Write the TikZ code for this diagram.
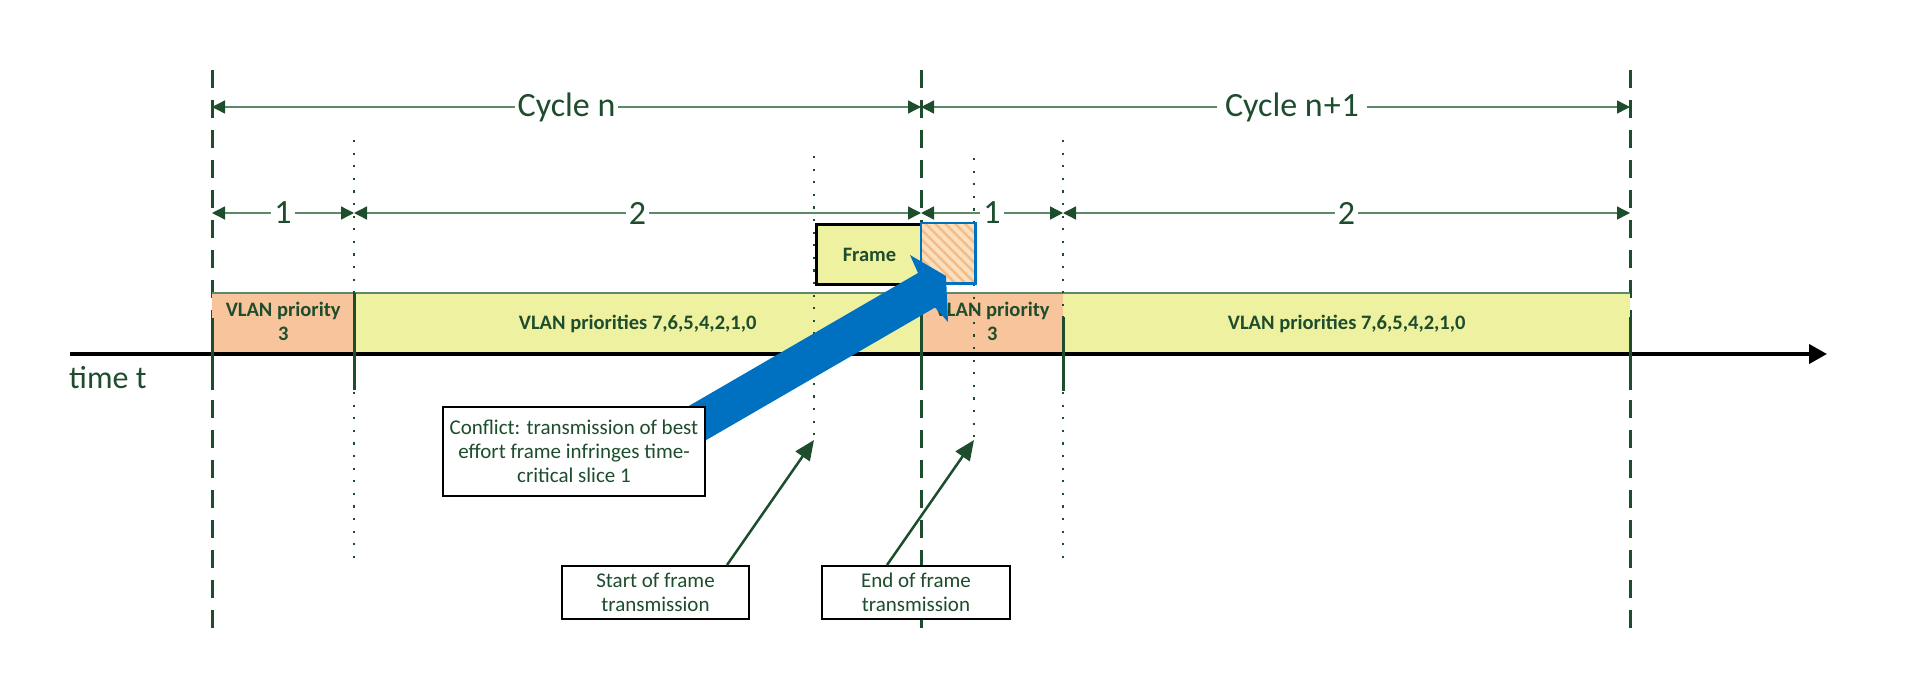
\documentclass[tikz,border=0pt]{standalone}
\usepackage{fontspec}
\setmainfont{Carlito}
\usetikzlibrary{arrows.meta,patterns.meta}
\definecolor{dkgreen}{HTML}{1D4D2C}
\definecolor{lgreen}{HTML}{5C8A68}
\definecolor{orfill}{HTML}{F8C49B}
\definecolor{yefill}{HTML}{EEF1A0}
\definecolor{bluearr}{HTML}{0070C0}
\definecolor{hatchbg}{HTML}{FBE0C0}
\definecolor{hatchln}{HTML}{F5BC85}
\begin{document}
\begin{tikzpicture}[x=1pt,y=-1pt,
  dashedline/.style={draw=dkgreen,line width=3pt,dash pattern=on 18pt off 12pt},
  dottedline/.style={draw=dkgreen,line width=2.2pt,dash pattern=on 2.2pt off 10.4pt},
  dimline/.style={draw=lgreen,line width=1.4pt,
     {Triangle[length=13pt,width=13pt,color=dkgreen]}-{Triangle[length=13pt,width=13pt,color=dkgreen]}},
  biglabel/.style={text=dkgreen,font=\fontsize{34}{40}\selectfont,fill=white,inner sep=3pt},
  bar/.style={inner sep=0pt,anchor=north west,minimum height=61pt},
  barlbl/.style={inner sep=0pt,text=dkgreen,font=\bfseries\fontsize{20.5}{23}\selectfont,align=center},
  tickline/.style={draw=dkgreen,line width=3pt},
  boxtext/.style={draw=black,line width=2pt,fill=white,text=dkgreen,
     font=\fontsize{21}{24}\selectfont,align=center,inner sep=0pt},
  pointer/.style={draw=dkgreen,line width=2.5pt,-{Triangle[length=20pt,width=17pt]}}
]
\useasboundingbox (0,0) rectangle (1914,694);

% dashed cycle boundaries
\coordinate (d0t) at (212,70);  \coordinate (d0b) at (212,633);
\coordinate (d1t) at (921,70);  \coordinate (d1b) at (921,631);
\coordinate (d2t) at (1630,70); \coordinate (d2b) at (1630,633);
\draw[dashedline] (d0t) -- (d0b);
\draw[dashedline] (d1t) -- (d1b);
\draw[dashedline] (d2t) -- (d2b);

% cycle dimension lines
\coordinate (c0) at (212,107); \coordinate (c1) at (921,107); \coordinate (c2) at (1630,107);
\draw[dimline] (c0) -- (c1);
\draw[dimline] (c1) -- (c2);
\node[biglabel] (cycn) at (566.5,107) {Cycle n};
\node[biglabel,inner xsep=8pt] (cycn1) at (1292,107) {Cycle n{\kern1pt}+{\kern1pt}1};

% slice dimension lines
\coordinate (s0) at (212,213); \coordinate (s1) at (354,213); \coordinate (s2) at (921,213);
\coordinate (s3) at (1063,213); \coordinate (s4) at (1630,213);
\draw[dimline] (s0) -- (s1);
\draw[dimline] (s1) -- (s2);
\draw[dimline] (s2) -- (s3);
\draw[dimline] (s3) -- (s4);
\node[biglabel] (l1a) at (283,213) {1};
\node[biglabel] (l2a) at (637.5,213) {2};
\node[biglabel] (l1b) at (992,213) {1};
\node[biglabel] (l2b) at (1346.5,213) {2};

% priority bars
\node[bar,fill=orfill,minimum width=142pt] (p1) at (212,293) {};
\node[bar,fill=yefill,minimum width=567pt] (p2) at (354,293) {};
\node[bar,fill=orfill,minimum width=142pt] (p3) at (921,293) {};
\node[bar,fill=yefill,minimum width=567pt] (p4) at (1063,293) {};
\node[barlbl] (p1t) at ([yshift=2pt]p1.center) {VLAN priority\\[1pt]3};
\node[barlbl] (p2t) at (p2.center) {VLAN priorities 7,6,5,4,2,1,0};
\node[barlbl] (p3t) at ([yshift=2pt]p3.center) {VLAN priority\\[1pt]3};
\node[barlbl] (p4t) at (p4.center) {VLAN priorities 7,6,5,4,2,1,0};
\draw[draw=lgreen,line width=1.4pt] (p1.north west) -- (p4.north east);

% dotted lines
\coordinate (t1t) at (354,140);  \coordinate (t1b) at (354,567);
\coordinate (t3t) at (1063,140); \coordinate (t3b) at (1063,567);
\coordinate (fs) at (814,156);   \coordinate (fsb) at (814,440);
\coordinate (fe) at (974,158);   \coordinate (feb) at (974,440);
\draw[dottedline] (t1t) -- (t1b);
\draw[dottedline] (t3t) -- (t3b);
\draw[dottedline] (fs) -- (fsb);
\draw[dottedline] (fe) -- (feb);

% time axis
\coordinate (ts) at (70,354); \coordinate (te) at (1827,354);
\draw[black,line width=4pt,-{Triangle[length=18pt,width=19pt]}] (ts) -- (te);
\node[text=dkgreen,font=\fontsize{32}{38}\selectfont,anchor=west,inner sep=0pt] (tlab) at (69,378) {time t};

% ticks
\draw[tickline] (212,318) -- (212,390);
\draw[tickline] (354,293) -- (354,390);
\draw[tickline] (921,300) -- (921,390);
\draw[tickline] (1063,317) -- (1063,391);
\draw[tickline] (1630,317) -- (1630,390);

% frame
\node[draw=black,line width=3pt,fill=yefill,minimum width=106pt,minimum height=60pt,
  inner sep=0pt,anchor=north west,text=dkgreen,font=\bfseries\fontsize{20.5}{23}\selectfont] (frame) at (815,223) {Frame};
\node[fill=hatchbg,minimum width=54pt,minimum height=60pt,inner sep=0pt,anchor=north west] (hatch) at (921,223) {};
\fill[pattern={Lines[angle=-45,distance=7pt,line width=2.5pt]},pattern color=hatchln] (hatch.south west) rectangle (hatch.north east);
\draw[bluearr,line width=2.5pt] (hatch.south west) rectangle (hatch.north east);

% blue arrow
\fill[bluearr] (650,428.5) -- (918,273) -- (910,255) -- (946,276) -- (948,322) -- (935,307.5) -- (670,461) -- cycle;

% conflict box
\node[boxtext,minimum width=262pt,minimum height=89pt] (conf) at (574,451.5)
  {Conflict: transmission of best\\effort frame infringes time-\\critical slice 1};

% start / end boxes
\node[boxtext,minimum width=187pt,minimum height=53pt] (startb) at (655.5,592.5)
  {Start of frame\\transmission};
\node[boxtext,minimum width=188pt,minimum height=53pt] (endb) at (916,592.5)
  {End of frame\\transmission};
\draw[pointer] ([xshift=71.5pt]startb.north) -- (fsb);
\draw[pointer] ([xshift=-29pt]endb.north) -- (feb);
\end{tikzpicture}
\end{document}
